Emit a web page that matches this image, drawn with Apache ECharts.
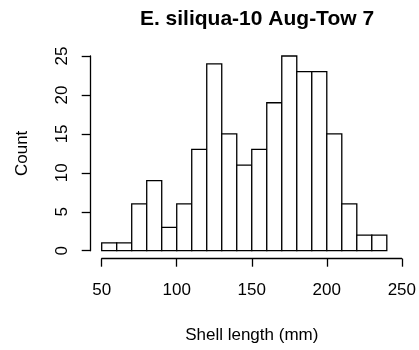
<!DOCTYPE html>
<html>
<head>
<meta charset="utf-8">
<script src="https://cdn.jsdelivr.net/npm/echarts@6/dist/echarts.min.js"></script>
<style>html,body{margin:0;padding:0;background:#fff}#c{width:419px;height:350px}</style>
</head>
<body>
<div id="c"></div>
<script>
var binStarts = [50,60,70,80,90,100,110,120,130,140,150,160,170,180,190,200,210,220,230];
var binWidth = 10;
var counts = [1,1,6,9,3,6,13,24,15,11,13,19,25,23,23,15,6,2,2];
var xTicks = [50,100,150,200,250];
var yTicks = [0,5,10,15,20,25];
var titleText = 'E. siliqua-10 Aug-Tow 7';
var xLabel = 'Shell length (mm)';
var yLabel = 'Count';

var data = binStarts.map(function(s,i){ return [s, s+binWidth, counts[i]]; });
var font = 'Liberation Sans, Arial, sans-serif';
var chart = echarts.init(document.getElementById('c'), null, {renderer:'canvas'});
chart.setOption({
  animation:false,
  backgroundColor:'#fff',
  title:{text:titleText,left:252,top:4,textAlign:'center',
    textStyle:{fontFamily:font,fontSize:21,fontWeight:'bold',color:'#000'}},
  grid:{left:101.7,right:16.7,top:56,bottom:99.3},
  xAxis:{type:'value',min:xTicks[0],max:xTicks[xTicks.length-1],interval:50,offset:8,
    name:xLabel,nameLocation:'middle',nameGap:68,
    nameTextStyle:{fontFamily:font,fontSize:17,color:'#000'},
    axisLine:{show:true,onZero:false,lineStyle:{color:'#000',width:1.3}},
    axisTick:{show:true,length:8,lineStyle:{color:'#000',width:1.3}},
    axisLabel:{fontFamily:font,fontSize:17,color:'#000',margin:23},
    splitLine:{show:false}},
  yAxis:{type:'value',min:yTicks[0],max:yTicks[yTicks.length-1],interval:5,offset:11,
    name:yLabel,nameLocation:'middle',nameGap:60,
    nameTextStyle:{fontFamily:font,fontSize:17,color:'#000'},
    axisLine:{show:true,onZero:false,lineStyle:{color:'#000',width:1.3}},
    axisTick:{show:true,length:9,lineStyle:{color:'#000',width:1.3}},
    axisLabel:{fontFamily:font,fontSize:17,color:'#000',rotate:90,margin:20},
    splitLine:{show:false}},
  series:[{type:'custom',data:data,clip:false,
    encode:{x:[0,1],y:2},
    renderItem:function(params,api){
      var p0 = api.coord([api.value(0),0]);
      var p1 = api.coord([api.value(1),api.value(2)]);
      return {type:'rect',shape:{x:p0[0],y:p1[1],width:p1[0]-p0[0],height:p0[1]-p1[1]},
        style:{fill:'#fff',stroke:'#000',lineWidth:1.3}};
    }}]
});
</script>
</body>
</html>
